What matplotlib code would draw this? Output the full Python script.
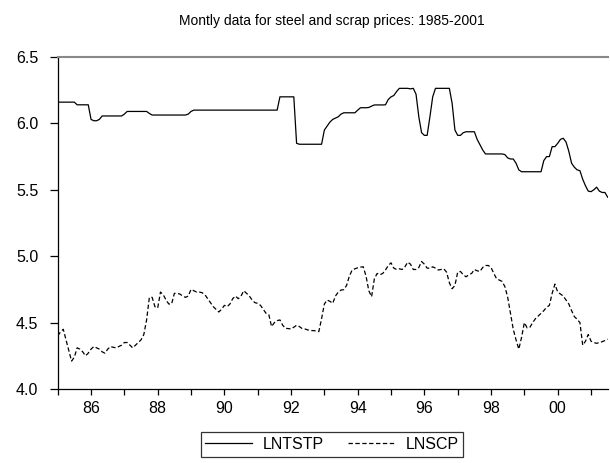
import numpy as np
import matplotlib
matplotlib.use('Agg')
import matplotlib.pyplot as plt

plt.rcParams['font.family'] = ['Liberation Sans', 'DejaVu Sans']

# Monthly observations 1985M01 - 2001M07
start_year = 1985
lntstp = [
    6.16, 6.16, 6.16, 6.16, 6.16, 6.16, 6.16, 6.14, 6.14, 6.14, 6.14, 6.14,
    6.03, 6.02, 6.02, 6.03, 6.056, 6.056, 6.056, 6.056, 6.056, 6.056, 6.056, 6.056,
    6.07, 6.09, 6.09, 6.09, 6.09, 6.09, 6.09, 6.09, 6.09, 6.075, 6.063, 6.063,
    6.063, 6.063, 6.063, 6.063, 6.063, 6.063, 6.063, 6.063, 6.063, 6.063, 6.063, 6.07,
    6.09, 6.10, 6.10, 6.10, 6.10, 6.10, 6.10, 6.10, 6.10, 6.10, 6.10, 6.10,
    6.10, 6.10, 6.10, 6.10, 6.10, 6.10, 6.10, 6.10, 6.10, 6.10, 6.10, 6.10,
    6.10, 6.10, 6.10, 6.10, 6.10, 6.10, 6.10, 6.10, 6.20, 6.20, 6.20, 6.20,
    6.20, 6.20, 5.85, 5.843, 5.843, 5.843, 5.843, 5.843, 5.843, 5.843, 5.843, 5.843,
    5.95, 5.98, 6.01, 6.03, 6.04, 6.05, 6.07, 6.08, 6.08, 6.08, 6.08, 6.08,
    6.10, 6.118, 6.118, 6.118, 6.12, 6.13, 6.139, 6.139, 6.139, 6.139, 6.14, 6.18,
    6.20, 6.21, 6.24, 6.264, 6.264, 6.264, 6.264, 6.26, 6.264, 6.22, 6.05, 5.93,
    5.91, 5.91, 6.05, 6.20, 6.264, 6.264, 6.264, 6.264, 6.264, 6.264, 6.15, 5.95,
    5.91, 5.91, 5.93, 5.937, 5.937, 5.937, 5.937, 5.88, 5.84, 5.80, 5.77, 5.77,
    5.77, 5.77, 5.77, 5.77, 5.77, 5.765, 5.74, 5.732, 5.732, 5.70, 5.65, 5.636,
    5.636, 5.636, 5.636, 5.636, 5.636, 5.636, 5.636, 5.72, 5.75, 5.75, 5.825, 5.825,
    5.85, 5.88, 5.888, 5.86, 5.79, 5.70, 5.67, 5.65, 5.644, 5.58, 5.53, 5.49,
    5.486, 5.50, 5.52, 5.49, 5.48, 5.48, 5.444,
]
lnscp = [
    4.40, 4.43, 4.45, 4.37, 4.29, 4.21, 4.24, 4.31, 4.30, 4.28, 4.25, 4.27,
    4.30, 4.32, 4.31, 4.30, 4.28, 4.27, 4.30, 4.32, 4.314, 4.31, 4.32, 4.33,
    4.35, 4.35, 4.33, 4.31, 4.33, 4.35, 4.37, 4.41, 4.52, 4.69, 4.69, 4.62,
    4.61, 4.73, 4.71, 4.67, 4.64, 4.64, 4.72, 4.72, 4.715, 4.70, 4.69, 4.70,
    4.75, 4.74, 4.73, 4.73, 4.725, 4.71, 4.68, 4.65, 4.62, 4.60, 4.58, 4.60,
    4.63, 4.62, 4.64, 4.68, 4.70, 4.68, 4.70, 4.74, 4.72, 4.70, 4.67, 4.65,
    4.645, 4.63, 4.60, 4.57, 4.56, 4.47, 4.50, 4.515, 4.52, 4.48, 4.457, 4.455,
    4.452, 4.465, 4.48, 4.47, 4.455, 4.452, 4.445, 4.44, 4.44, 4.437, 4.432, 4.53,
    4.64, 4.67, 4.66, 4.645, 4.70, 4.73, 4.745, 4.748, 4.78, 4.85, 4.896, 4.905,
    4.913, 4.918, 4.92, 4.85, 4.74, 4.695, 4.83, 4.87, 4.86, 4.87, 4.896, 4.93,
    4.95, 4.91, 4.90, 4.905, 4.90, 4.92, 4.955, 4.94, 4.90, 4.90, 4.915, 4.96,
    4.94, 4.91, 4.91, 4.92, 4.91, 4.896, 4.90, 4.905, 4.88, 4.80, 4.755, 4.78,
    4.88, 4.885, 4.86, 4.845, 4.86, 4.87, 4.90, 4.89, 4.885, 4.915, 4.93, 4.93,
    4.915, 4.87, 4.83, 4.82, 4.81, 4.77, 4.69, 4.57, 4.45, 4.37, 4.30, 4.39,
    4.50, 4.46, 4.465, 4.50, 4.53, 4.55, 4.57, 4.59, 4.615, 4.63, 4.72, 4.79,
    4.73, 4.715, 4.70, 4.67, 4.64, 4.59, 4.545, 4.525, 4.50, 4.33, 4.36, 4.41,
    4.36, 4.35, 4.344, 4.35, 4.356, 4.365, 4.375,
]
year_labels = ['', '86', '', '88', '', '90', '', '92', '', '94', '', '96', '', '98', '', '00', '']
y_ticks = [4.0, 4.5, 5.0, 5.5, 6.0, 6.5]

months = np.arange(len(lntstp))

fig = plt.figure(figsize=(6.10, 4.63), dpi=100)
ax = fig.add_axes([57.7 / 610, 1 - 389 / 463, 550 / 610, 332 / 463])

ax.plot(months, lntstp, color='black', lw=0.9, label='LNTSTP')
ax.plot(months, lnscp, color='black', lw=0.9, ls=(0, (3.5, 2)), label='LNSCP')

ax.set_xlim(0, len(lntstp) - 1)
ax.set_ylim(4.0, 6.5)
ax.set_xticks(np.arange(len(year_labels)) * 12)
ax.set_xticklabels(year_labels)
ax.set_yticks(y_ticks)
ax.set_yticklabels(['%.1f' % v for v in y_ticks])
ax.tick_params(axis='x', direction='out', length=4.5, width=0.9, labelsize=11.5, pad=4)
ax.tick_params(axis='y', direction='out', length=6, width=0.9, labelsize=11.5, pad=8)

ax.spines['top'].set_color('#888888')
ax.spines['top'].set_linewidth(1.5)
ax.spines['right'].set_visible(False)
ax.spines['left'].set_linewidth(0.9)
ax.spines['bottom'].set_linewidth(0.9)

fig.text(332 / 610, 1 - 21 / 463, 'Montly data for steel and scrap prices: 1985-2001',
         ha='center', va='center', fontsize=10)

leg = ax.legend(loc='upper center', bbox_to_anchor=(332 / 610, 1 - 424 / 463),
                bbox_transform=fig.transFigure, ncol=2, fontsize=11.5,
                frameon=True, fancybox=False, handlelength=2.9,
                columnspacing=1.5, borderpad=0.3, handletextpad=0.7)
leg.get_frame().set_edgecolor('black')
leg.get_frame().set_linewidth(0.9)

plt.savefig('out.png', dpi=100)
plt.close()
